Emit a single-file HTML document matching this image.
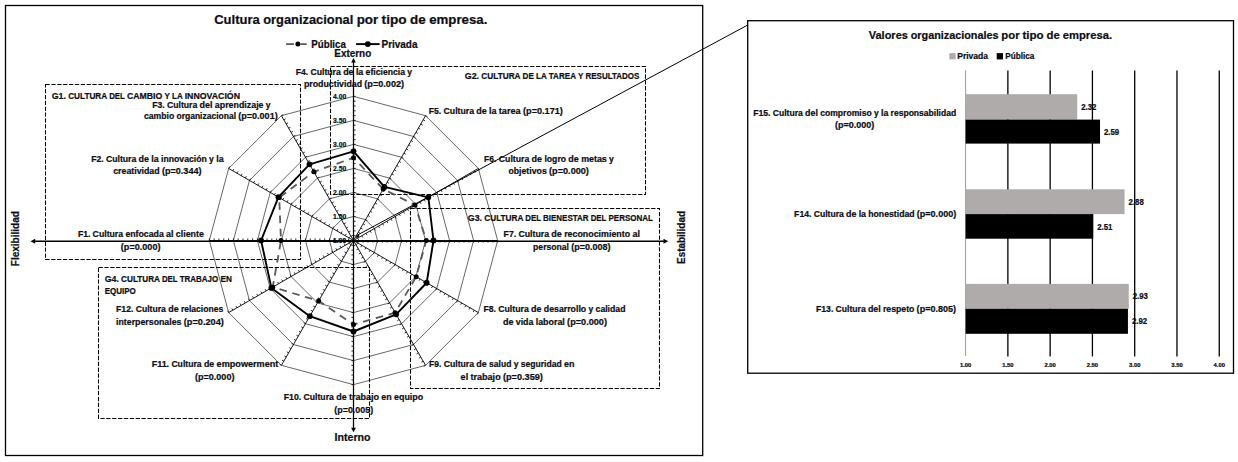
<!DOCTYPE html>
<html lang="es"><head><meta charset="utf-8"><title>Cultura organizacional por tipo de empresa</title>
<style>html,body{margin:0;padding:0;background:#fff}body{width:1238px;height:462px;overflow:hidden}svg{display:block}text{stroke:#0d0d14;stroke-width:.22px}</style></head>
<body>
<svg width="1238" height="462" viewBox="0 0 1238 462" font-family='"Liberation Sans", sans-serif' font-weight="bold" fill="#0d0d14">
<rect x="0" y="0" width="1238" height="462" fill="#fff"/>
<rect x="5.5" y="5.5" width="697.2" height="450" fill="none" stroke="#000" stroke-width="1.3"/>
<g fill="none" stroke="#000" stroke-width="0.6"><polygon points="353.5,216.47 365.51,219.69 374.31,228.49 377.52,240.5 374.31,252.51 365.51,261.31 353.5,264.52 341.49,261.31 332.69,252.51 329.48,240.5 332.69,228.49 341.49,219.69"/><polygon points="353.5,192.45 377.52,198.89 395.11,216.47 401.55,240.5 395.11,264.52 377.52,282.11 353.5,288.55 329.48,282.11 311.89,264.53 305.45,240.5 311.89,216.47 329.47,198.89"/><polygon points="353.5,168.43 389.54,178.08 415.92,204.46 425.57,240.5 415.92,276.54 389.54,302.92 353.5,312.57 317.46,302.92 291.08,276.54 281.43,240.5 291.08,204.46 317.46,178.08"/><polygon points="353.5,144.4 401.55,157.27 436.73,192.45 449.6,240.5 436.73,288.55 401.55,323.73 353.5,336.6 305.45,323.73 270.27,288.55 257.4,240.5 270.27,192.45 305.45,157.27"/><polygon points="353.5,120.38 413.56,136.47 457.53,180.44 473.62,240.5 457.53,300.56 413.56,344.53 353.5,360.62 293.44,344.53 249.47,300.56 233.38,240.5 249.47,180.44 293.44,136.47"/><polygon points="353.5,96.35 425.57,115.66 478.34,168.43 497.65,240.5 478.34,312.57 425.57,365.34 353.5,384.65 281.43,365.34 228.66,312.58 209.35,240.5 228.66,168.43 281.42,115.66"/></g>
<path d="M353.5 240.5L353.5 96.35M353.5 240.5L425.57 115.66M353.5 240.5L478.34 168.43M353.5 240.5L497.65 240.5M353.5 240.5L478.34 312.57M353.5 240.5L425.57 365.34M353.5 240.5L353.5 384.65M353.5 240.5L281.43 365.34M353.5 240.5L228.66 312.58M353.5 240.5L209.35 240.5M353.5 240.5L228.66 168.43M353.5 240.5L281.42 115.66" fill="none" stroke="#000" stroke-width="0.9"/>
<path d="M353.5 235.69l2.1 -0M353.5 230.89l2.1 -0M353.5 226.09l2.1 -0M353.5 221.28l2.1 -0M353.5 216.47l2.1 -0M353.5 211.67l2.1 -0M353.5 206.87l2.1 -0M353.5 202.06l2.1 -0M353.5 197.25l2.1 -0M353.5 192.45l2.1 -0M353.5 187.65l2.1 -0M353.5 182.84l2.1 -0M353.5 178.03l2.1 -0M353.5 173.23l2.1 -0M353.5 168.43l2.1 -0M353.5 163.62l2.1 -0M353.5 158.81l2.1 -0M353.5 154.01l2.1 -0M353.5 149.21l2.1 -0M353.5 144.4l2.1 -0M353.5 139.59l2.1 -0M353.5 134.79l2.1 -0M353.5 129.99l2.1 -0M353.5 125.18l2.1 -0M353.5 120.38l2.1 -0M353.5 115.57l2.1 -0M353.5 110.77l2.1 -0M353.5 105.96l2.1 -0M353.5 101.16l2.1 -0M353.5 96.35l2.1 -0M355.9 236.34l1.82 1.05M358.31 232.18l1.82 1.05M360.71 228.02l1.82 1.05M363.11 223.85l1.82 1.05M365.51 219.69l1.82 1.05M367.92 215.53l1.82 1.05M370.32 211.37l1.82 1.05M372.72 207.21l1.82 1.05M375.12 203.05l1.82 1.05M377.52 198.89l1.82 1.05M379.93 194.73l1.82 1.05M382.33 190.56l1.82 1.05M384.73 186.4l1.82 1.05M387.13 182.24l1.82 1.05M389.54 178.08l1.82 1.05M391.94 173.92l1.82 1.05M394.34 169.76l1.82 1.05M396.75 165.6l1.82 1.05M399.15 161.44l1.82 1.05M401.55 157.27l1.82 1.05M403.95 153.11l1.82 1.05M406.36 148.95l1.82 1.05M408.76 144.79l1.82 1.05M411.16 140.63l1.82 1.05M413.56 136.47l1.82 1.05M415.96 132.31l1.82 1.05M418.37 128.15l1.82 1.05M420.77 123.98l1.82 1.05M423.17 119.82l1.82 1.05M425.57 115.66l1.82 1.05M357.66 238.1l1.05 1.82M361.82 235.69l1.05 1.82M365.98 233.29l1.05 1.82M370.15 230.89l1.05 1.82M374.31 228.49l1.05 1.82M378.47 226.09l1.05 1.82M382.63 223.68l1.05 1.82M386.79 221.28l1.05 1.82M390.95 218.88l1.05 1.82M395.11 216.47l1.05 1.82M399.27 214.07l1.05 1.82M403.44 211.67l1.05 1.82M407.6 209.27l1.05 1.82M411.76 206.87l1.05 1.82M415.92 204.46l1.05 1.82M420.08 202.06l1.05 1.82M424.24 199.66l1.05 1.82M428.4 197.25l1.05 1.82M432.56 194.85l1.05 1.82M436.73 192.45l1.05 1.82M440.89 190.05l1.05 1.82M445.05 187.64l1.05 1.82M449.21 185.24l1.05 1.82M453.37 182.84l1.05 1.82M457.53 180.44l1.05 1.82M461.69 178.03l1.05 1.82M465.85 175.63l1.05 1.82M470.02 173.23l1.05 1.82M474.18 170.83l1.05 1.82M478.34 168.42l1.05 1.82M358.31 240.5l0 2.1M363.11 240.5l0 2.1M367.92 240.5l0 2.1M372.72 240.5l0 2.1M377.52 240.5l0 2.1M382.33 240.5l0 2.1M387.13 240.5l0 2.1M391.94 240.5l0 2.1M396.75 240.5l0 2.1M401.55 240.5l0 2.1M406.36 240.5l0 2.1M411.16 240.5l0 2.1M415.96 240.5l0 2.1M420.77 240.5l0 2.1M425.57 240.5l0 2.1M430.38 240.5l0 2.1M435.19 240.5l0 2.1M439.99 240.5l0 2.1M444.79 240.5l0 2.1M449.6 240.5l0 2.1M454.4 240.5l0 2.1M459.21 240.5l0 2.1M464.01 240.5l0 2.1M468.82 240.5l0 2.1M473.62 240.5l0 2.1M478.43 240.5l0 2.1M483.24 240.5l0 2.1M488.04 240.5l0 2.1M492.84 240.5l0 2.1M497.65 240.5l0 2.1M357.66 242.9l-1.05 1.82M361.82 245.31l-1.05 1.82M365.98 247.71l-1.05 1.82M370.15 250.11l-1.05 1.82M374.31 252.51l-1.05 1.82M378.47 254.91l-1.05 1.82M382.63 257.32l-1.05 1.82M386.79 259.72l-1.05 1.82M390.95 262.12l-1.05 1.82M395.11 264.52l-1.05 1.82M399.27 266.93l-1.05 1.82M403.44 269.33l-1.05 1.82M407.6 271.73l-1.05 1.82M411.76 274.13l-1.05 1.82M415.92 276.54l-1.05 1.82M420.08 278.94l-1.05 1.82M424.24 281.34l-1.05 1.82M428.4 283.75l-1.05 1.82M432.56 286.15l-1.05 1.82M436.73 288.55l-1.05 1.82M440.89 290.95l-1.05 1.82M445.05 293.35l-1.05 1.82M449.21 295.76l-1.05 1.82M453.37 298.16l-1.05 1.82M457.53 300.56l-1.05 1.82M461.69 302.96l-1.05 1.82M465.85 305.37l-1.05 1.82M470.02 307.77l-1.05 1.82M474.18 310.17l-1.05 1.82M478.34 312.57l-1.05 1.82M355.9 244.66l-1.82 1.05M358.31 248.82l-1.82 1.05M360.71 252.98l-1.82 1.05M363.11 257.15l-1.82 1.05M365.51 261.31l-1.82 1.05M367.92 265.47l-1.82 1.05M370.32 269.63l-1.82 1.05M372.72 273.79l-1.82 1.05M375.12 277.95l-1.82 1.05M377.52 282.11l-1.82 1.05M379.93 286.27l-1.82 1.05M382.33 290.44l-1.82 1.05M384.73 294.6l-1.82 1.05M387.13 298.76l-1.82 1.05M389.54 302.92l-1.82 1.05M391.94 307.08l-1.82 1.05M394.34 311.24l-1.82 1.05M396.75 315.4l-1.82 1.05M399.15 319.56l-1.82 1.05M401.55 323.73l-1.82 1.05M403.95 327.89l-1.82 1.05M406.36 332.05l-1.82 1.05M408.76 336.21l-1.82 1.05M411.16 340.37l-1.82 1.05M413.56 344.53l-1.82 1.05M415.96 348.69l-1.82 1.05M418.37 352.85l-1.82 1.05M420.77 357.02l-1.82 1.05M423.17 361.18l-1.82 1.05M425.57 365.34l-1.82 1.05M353.5 245.31l-2.1 0M353.5 250.11l-2.1 0M353.5 254.91l-2.1 0M353.5 259.72l-2.1 0M353.5 264.52l-2.1 0M353.5 269.33l-2.1 0M353.5 274.13l-2.1 0M353.5 278.94l-2.1 0M353.5 283.75l-2.1 0M353.5 288.55l-2.1 0M353.5 293.36l-2.1 0M353.5 298.16l-2.1 0M353.5 302.96l-2.1 0M353.5 307.77l-2.1 0M353.5 312.57l-2.1 0M353.5 317.38l-2.1 0M353.5 322.19l-2.1 0M353.5 326.99l-2.1 0M353.5 331.79l-2.1 0M353.5 336.6l-2.1 0M353.5 341.4l-2.1 0M353.5 346.21l-2.1 0M353.5 351.01l-2.1 0M353.5 355.82l-2.1 0M353.5 360.62l-2.1 0M353.5 365.43l-2.1 0M353.5 370.24l-2.1 0M353.5 375.04l-2.1 0M353.5 379.84l-2.1 0M353.5 384.65l-2.1 0M351.1 244.66l-1.82 -1.05M348.69 248.82l-1.82 -1.05M346.29 252.98l-1.82 -1.05M343.89 257.15l-1.82 -1.05M341.49 261.31l-1.82 -1.05M339.08 265.47l-1.82 -1.05M336.68 269.63l-1.82 -1.05M334.28 273.79l-1.82 -1.05M331.88 277.95l-1.82 -1.05M329.48 282.11l-1.82 -1.05M327.07 286.27l-1.82 -1.05M324.67 290.44l-1.82 -1.05M322.27 294.6l-1.82 -1.05M319.87 298.76l-1.82 -1.05M317.46 302.92l-1.82 -1.05M315.06 307.08l-1.82 -1.05M312.66 311.24l-1.82 -1.05M310.25 315.4l-1.82 -1.05M307.85 319.56l-1.82 -1.05M305.45 323.73l-1.82 -1.05M303.05 327.89l-1.82 -1.05M300.64 332.05l-1.82 -1.05M298.24 336.21l-1.82 -1.05M295.84 340.37l-1.82 -1.05M293.44 344.53l-1.82 -1.05M291.03 348.69l-1.82 -1.05M288.63 352.85l-1.82 -1.05M286.23 357.02l-1.82 -1.05M283.83 361.18l-1.82 -1.05M281.42 365.34l-1.82 -1.05M349.34 242.9l-1.05 -1.82M345.18 245.31l-1.05 -1.82M341.02 247.71l-1.05 -1.82M336.85 250.11l-1.05 -1.82M332.69 252.51l-1.05 -1.82M328.53 254.92l-1.05 -1.82M324.37 257.32l-1.05 -1.82M320.21 259.72l-1.05 -1.82M316.05 262.12l-1.05 -1.82M311.89 264.53l-1.05 -1.82M307.73 266.93l-1.05 -1.82M303.56 269.33l-1.05 -1.82M299.4 271.73l-1.05 -1.82M295.24 274.14l-1.05 -1.82M291.08 276.54l-1.05 -1.82M286.92 278.94l-1.05 -1.82M282.76 281.34l-1.05 -1.82M278.6 283.75l-1.05 -1.82M274.44 286.15l-1.05 -1.82M270.27 288.55l-1.05 -1.82M266.11 290.95l-1.05 -1.82M261.95 293.36l-1.05 -1.82M257.79 295.76l-1.05 -1.82M253.63 298.16l-1.05 -1.82M249.47 300.56l-1.05 -1.82M245.31 302.97l-1.05 -1.82M241.15 305.37l-1.05 -1.82M236.98 307.77l-1.05 -1.82M232.82 310.17l-1.05 -1.82M228.66 312.58l-1.05 -1.82M348.69 240.5l-0 -2.1M343.89 240.5l-0 -2.1M339.08 240.5l-0 -2.1M334.28 240.5l-0 -2.1M329.48 240.5l-0 -2.1M324.67 240.5l-0 -2.1M319.87 240.5l-0 -2.1M315.06 240.5l-0 -2.1M310.25 240.5l-0 -2.1M305.45 240.5l-0 -2.1M300.64 240.5l-0 -2.1M295.84 240.5l-0 -2.1M291.04 240.5l-0 -2.1M286.23 240.5l-0 -2.1M281.43 240.5l-0 -2.1M276.62 240.5l-0 -2.1M271.81 240.5l-0 -2.1M267.01 240.5l-0 -2.1M262.21 240.5l-0 -2.1M257.4 240.5l-0 -2.1M252.59 240.5l-0 -2.1M247.79 240.5l-0 -2.1M242.99 240.5l-0 -2.1M238.18 240.5l-0 -2.1M233.38 240.5l-0 -2.1M228.57 240.5l-0 -2.1M223.77 240.5l-0 -2.1M218.96 240.5l-0 -2.1M214.16 240.5l-0 -2.1M209.35 240.5l-0 -2.1M349.34 238.1l1.05 -1.82M345.18 235.69l1.05 -1.82M341.02 233.29l1.05 -1.82M336.85 230.89l1.05 -1.82M332.69 228.49l1.05 -1.82M328.53 226.09l1.05 -1.82M324.37 223.68l1.05 -1.82M320.21 221.28l1.05 -1.82M316.05 218.88l1.05 -1.82M311.89 216.47l1.05 -1.82M307.73 214.07l1.05 -1.82M303.56 211.67l1.05 -1.82M299.4 209.27l1.05 -1.82M295.24 206.87l1.05 -1.82M291.08 204.46l1.05 -1.82M286.92 202.06l1.05 -1.82M282.76 199.66l1.05 -1.82M278.6 197.25l1.05 -1.82M274.44 194.85l1.05 -1.82M270.27 192.45l1.05 -1.82M266.11 190.05l1.05 -1.82M261.95 187.64l1.05 -1.82M257.79 185.24l1.05 -1.82M253.63 182.84l1.05 -1.82M249.47 180.44l1.05 -1.82M245.31 178.03l1.05 -1.82M241.15 175.63l1.05 -1.82M236.98 173.23l1.05 -1.82M232.82 170.83l1.05 -1.82M228.66 168.42l1.05 -1.82M351.1 236.34l1.82 -1.05M348.69 232.18l1.82 -1.05M346.29 228.02l1.82 -1.05M343.89 223.85l1.82 -1.05M341.49 219.69l1.82 -1.05M339.08 215.53l1.82 -1.05M336.68 211.37l1.82 -1.05M334.28 207.21l1.82 -1.05M331.88 203.05l1.82 -1.05M329.47 198.89l1.82 -1.05M327.07 194.73l1.82 -1.05M324.67 190.56l1.82 -1.05M322.27 186.4l1.82 -1.05M319.86 182.24l1.82 -1.05M317.46 178.08l1.82 -1.05M315.06 173.92l1.82 -1.05M312.66 169.76l1.82 -1.05M310.25 165.6l1.82 -1.05M307.85 161.44l1.82 -1.05M305.45 157.27l1.82 -1.05M303.05 153.11l1.82 -1.05M300.64 148.95l1.82 -1.05M298.24 144.79l1.82 -1.05M295.84 140.63l1.82 -1.05M293.44 136.47l1.82 -1.05M291.03 132.31l1.82 -1.05M288.63 128.15l1.82 -1.05M286.23 123.98l1.82 -1.05M283.83 119.82l1.82 -1.05M281.42 115.66l1.82 -1.05" fill="none" stroke="#000" stroke-width="0.8"/>
<path d="M353.5 61V430" stroke="#000" stroke-width="1.25" fill="none"/>
<path d="M34 241.2H665" stroke="#000" stroke-width="1.4" fill="none"/>
<path d="M353.5 58l2.3 4.4h-4.6z M353.5 432.2l2.4 -4.5h-4.8z M30.5 241.2l4.7 -2.5v5z M668.2 241.2l-4.7 -2.5v5z" fill="#000"/>
<path d="M357 235.3L747.4 25.2" stroke="#000" stroke-width="1" fill="none"/>
<path d="M355.2 238.2l3.4 -4.4l0.9 2.6z" fill="#000"/>
<rect x="45.5" y="84.5" width="255" height="175" fill="none" stroke="#000" stroke-width="1.05" stroke-dasharray="4.3 1.57"/>
<rect x="330.5" y="66.5" width="315" height="128" fill="none" stroke="#000" stroke-width="1.05" stroke-dasharray="4.3 1.57"/>
<rect x="410.5" y="208.5" width="249" height="180" fill="none" stroke="#000" stroke-width="1.05" stroke-dasharray="4.3 1.57"/>
<rect x="98.5" y="267.5" width="271" height="151" fill="none" stroke="#000" stroke-width="1.05" stroke-dasharray="4.3 1.57"/>
<polygon points="353.5,157.8 383.2,189.06 414.99,205 426.3,240.5 416.2,276.7 395.15,312.64 353.5,324.5 318.65,300.86 272.7,287.15 281,240.5 279.2,197.6 313.85,171.82" fill="none" stroke="#595959" stroke-width="1.8" stroke-dasharray="7.58 5.68" stroke-dashoffset="4.46" stroke-linejoin="round"/>
<g fill="#000"><circle cx="353.5" cy="157.8" r="2.5"/><circle cx="383.2" cy="189.06" r="2.5"/><circle cx="414.99" cy="205" r="2.5"/><circle cx="426.3" cy="240.5" r="2.5"/><circle cx="416.2" cy="276.7" r="2.5"/><circle cx="395.15" cy="312.64" r="2.5"/><circle cx="353.5" cy="324.5" r="2.5"/><circle cx="318.65" cy="300.86" r="2.5"/><circle cx="272.7" cy="287.15" r="2.5"/><circle cx="281" cy="240.5" r="2.5"/><circle cx="279.2" cy="197.6" r="2.5"/><circle cx="313.85" cy="171.82" r="2.5"/></g>
<polygon points="353.5,151.3 384.45,186.89 428.32,197.3 433.5,240.5 426.68,282.75 396.15,314.37 353.5,331.5 309.8,316.19 271.4,287.9 261.1,240.5 278.42,197.15 309.5,164.29" fill="none" stroke="#000" stroke-width="1.9" stroke-linejoin="round"/>
<g fill="#000"><circle cx="353.5" cy="151.3" r="2.9"/><circle cx="384.45" cy="186.89" r="2.9"/><circle cx="428.32" cy="197.3" r="2.9"/><circle cx="433.5" cy="240.5" r="2.9"/><circle cx="426.68" cy="282.75" r="2.9"/><circle cx="396.15" cy="314.37" r="2.9"/><circle cx="353.5" cy="331.5" r="2.9"/><circle cx="309.8" cy="316.19" r="2.9"/><circle cx="271.4" cy="287.9" r="2.9"/><circle cx="261.1" cy="240.5" r="2.9"/><circle cx="278.42" cy="197.15" r="2.9"/><circle cx="309.5" cy="164.29" r="2.9"/></g>
<text x="333" y="243.1" font-size="7.13" textLength="13.2" lengthAdjust="spacingAndGlyphs">1.00</text>
<text x="333" y="219.07" font-size="7.13" textLength="13.2" lengthAdjust="spacingAndGlyphs">1.50</text>
<text x="333" y="195.05" font-size="7.13" textLength="13.2" lengthAdjust="spacingAndGlyphs">2.00</text>
<text x="333" y="171.03" font-size="7.13" textLength="13.2" lengthAdjust="spacingAndGlyphs">2.50</text>
<text x="333" y="147" font-size="7.13" textLength="13.2" lengthAdjust="spacingAndGlyphs">3.00</text>
<text x="333" y="122.97" font-size="7.13" textLength="13.2" lengthAdjust="spacingAndGlyphs">3.50</text>
<text x="333" y="98.95" font-size="7.13" textLength="13.2" lengthAdjust="spacingAndGlyphs">4.00</text>
<text y="24.4" font-size="13.5"><tspan x="214.2" textLength="45.58" lengthAdjust="spacingAndGlyphs">Cultura</tspan> <tspan x="263.19" textLength="90.05" lengthAdjust="spacingAndGlyphs">organizacional</tspan> <tspan x="356.65" textLength="21.56" lengthAdjust="spacingAndGlyphs">por</tspan> <tspan x="381.63" textLength="25.03" lengthAdjust="spacingAndGlyphs">tipo</tspan> <tspan x="410.07" textLength="15.69" lengthAdjust="spacingAndGlyphs">de</tspan> <tspan x="429.17" textLength="58.23" lengthAdjust="spacingAndGlyphs">empresa.</tspan></text>
<path d="M286.1 44.1H294M300.5 44.1H306.7" stroke="#595959" stroke-width="1.8" fill="none"/>
<circle cx="297.9" cy="44.1" r="2.5" fill="#000"/>
<text x="311.3" y="47.5" font-size="10.5" textLength="34.6" lengthAdjust="spacingAndGlyphs">Pública</text>
<path d="M356.1 44.1H379.6" stroke="#000" stroke-width="1.9" fill="none"/>
<circle cx="367.8" cy="44.1" r="2.9" fill="#000"/>
<text x="381.5" y="47.5" font-size="10.5" textLength="36" lengthAdjust="spacingAndGlyphs">Privada</text>
<text x="334.3" y="56.7" font-size="10.5" textLength="36.9" lengthAdjust="spacingAndGlyphs">Externo</text>
<text x="334.6" y="440.6" font-size="10.5" textLength="35.9" lengthAdjust="spacingAndGlyphs">Interno</text>
<text transform="translate(19.4 266.2) rotate(-90)" font-size="10.5" textLength="55" lengthAdjust="spacingAndGlyphs">Flexibilidad</text>
<text transform="translate(685 264) rotate(-90)" font-size="10.5" textLength="53" lengthAdjust="spacingAndGlyphs">Estabilidad</text>
<text y="98.6" font-size="9.05"><tspan x="51.7" textLength="14.19" lengthAdjust="spacingAndGlyphs">G1.</tspan> <tspan x="68.16" textLength="38.7" lengthAdjust="spacingAndGlyphs">CULTURA</tspan> <tspan x="109.14" textLength="15.5" lengthAdjust="spacingAndGlyphs">DEL</tspan> <tspan x="126.91" textLength="35.32" lengthAdjust="spacingAndGlyphs">CAMBIO</tspan> <tspan x="164.51" textLength="5.22" lengthAdjust="spacingAndGlyphs">Y</tspan> <tspan x="172.01" textLength="10.35" lengthAdjust="spacingAndGlyphs">LA</tspan> <tspan x="184.63" textLength="55.37" lengthAdjust="spacingAndGlyphs">INNOVACIÓN</tspan></text>
<text y="108.2" font-size="9.05"><tspan x="152.2" textLength="12.42" lengthAdjust="spacingAndGlyphs">F3.</tspan> <tspan x="166.9" textLength="30.44" lengthAdjust="spacingAndGlyphs">Cultura</tspan> <tspan x="199.62" textLength="12.95" lengthAdjust="spacingAndGlyphs">del</tspan> <tspan x="214.85" textLength="48.7" lengthAdjust="spacingAndGlyphs">aprendizaje</tspan> <tspan x="265.83" textLength="4.77" lengthAdjust="spacingAndGlyphs">y</tspan></text>
<text y="119.4" font-size="9.05"><tspan x="143.9" textLength="30.32" lengthAdjust="spacingAndGlyphs">cambio</tspan> <tspan x="176.47" textLength="59.55" lengthAdjust="spacingAndGlyphs">organizacional</tspan> <tspan x="238.28" textLength="39.42" lengthAdjust="spacingAndGlyphs">(p=0.001)</tspan></text>
<text y="161.9" font-size="9.05"><tspan x="91.2" textLength="12.42" lengthAdjust="spacingAndGlyphs">F2.</tspan> <tspan x="105.89" textLength="30.43" lengthAdjust="spacingAndGlyphs">Cultura</tspan> <tspan x="138.6" textLength="10.47" lengthAdjust="spacingAndGlyphs">de</tspan> <tspan x="151.35" textLength="7.44" lengthAdjust="spacingAndGlyphs">la</tspan> <tspan x="161.07" textLength="45.76" lengthAdjust="spacingAndGlyphs">innovación</tspan> <tspan x="209.11" textLength="4.77" lengthAdjust="spacingAndGlyphs">y</tspan> <tspan x="216.16" textLength="7.44" lengthAdjust="spacingAndGlyphs">la</tspan></text>
<text y="174.4" font-size="9.05"><tspan x="113.2" textLength="46.43" lengthAdjust="spacingAndGlyphs">creatividad</tspan> <tspan x="161.9" textLength="39.7" lengthAdjust="spacingAndGlyphs">(p=0.344)</tspan></text>
<text y="236.7" font-size="9.05"><tspan x="77.9" textLength="12.44" lengthAdjust="spacingAndGlyphs">F1.</tspan> <tspan x="92.62" textLength="30.49" lengthAdjust="spacingAndGlyphs">Cultura</tspan> <tspan x="125.4" textLength="38.44" lengthAdjust="spacingAndGlyphs">enfocada</tspan> <tspan x="166.12" textLength="7.46" lengthAdjust="spacingAndGlyphs">al</tspan> <tspan x="175.86" textLength="28.04" lengthAdjust="spacingAndGlyphs">cliente</tspan></text>
<text x="120.8" y="249.7" font-size="9.05" textLength="39.7" lengthAdjust="spacingAndGlyphs">(p=0.000)</text>
<text y="281.7" font-size="9.05"><tspan x="104.7" textLength="14.15" lengthAdjust="spacingAndGlyphs">G4.</tspan> <tspan x="121.12" textLength="38.6" lengthAdjust="spacingAndGlyphs">CULTURA</tspan> <tspan x="161.98" textLength="15.46" lengthAdjust="spacingAndGlyphs">DEL</tspan> <tspan x="179.71" textLength="38.53" lengthAdjust="spacingAndGlyphs">TRABAJO</tspan> <tspan x="220.5" textLength="11.5" lengthAdjust="spacingAndGlyphs">EN</tspan></text>
<text x="104.7" y="293.9" font-size="9.05" textLength="31.1" lengthAdjust="spacingAndGlyphs">EQUIPO</text>
<text y="312.2" font-size="9.05"><tspan x="116" textLength="17.42" lengthAdjust="spacingAndGlyphs">F12.</tspan> <tspan x="135.68" textLength="30.26" lengthAdjust="spacingAndGlyphs">Cultura</tspan> <tspan x="168.2" textLength="10.41" lengthAdjust="spacingAndGlyphs">de</tspan> <tspan x="180.88" textLength="42.32" lengthAdjust="spacingAndGlyphs">relaciones</tspan></text>
<text y="325.2" font-size="9.05"><tspan x="116" textLength="65.48" lengthAdjust="spacingAndGlyphs">interpersonales</tspan> <tspan x="183.77" textLength="40.03" lengthAdjust="spacingAndGlyphs">(p=0.204)</tspan></text>
<text y="367.4" font-size="9.05"><tspan x="151.7" textLength="17.42" lengthAdjust="spacingAndGlyphs">F11.</tspan> <tspan x="171.38" textLength="30.25" lengthAdjust="spacingAndGlyphs">Cultura</tspan> <tspan x="203.9" textLength="10.41" lengthAdjust="spacingAndGlyphs">de</tspan> <tspan x="216.57" textLength="61.83" lengthAdjust="spacingAndGlyphs">empowerment</tspan></text>
<text x="194.9" y="380.1" font-size="9.05" textLength="39.6" lengthAdjust="spacingAndGlyphs">(p=0.000)</text>
<text y="399.8" font-size="9.05"><tspan x="283.7" textLength="17.5" lengthAdjust="spacingAndGlyphs">F10.</tspan> <tspan x="303.48" textLength="30.4" lengthAdjust="spacingAndGlyphs">Cultura</tspan> <tspan x="336.16" textLength="10.46" lengthAdjust="spacingAndGlyphs">de</tspan> <tspan x="348.89" textLength="30.15" lengthAdjust="spacingAndGlyphs">trabajo</tspan> <tspan x="381.32" textLength="10.46" lengthAdjust="spacingAndGlyphs">en</tspan> <tspan x="394.06" textLength="29.14" lengthAdjust="spacingAndGlyphs">equipo</tspan></text>
<text x="334.3" y="413.2" font-size="9.05" textLength="38.8" lengthAdjust="spacingAndGlyphs">(p=0.005)</text>
<text y="74.8" font-size="9.05"><tspan x="295.7" textLength="12.42" lengthAdjust="spacingAndGlyphs">F4.</tspan> <tspan x="310.4" textLength="30.45" lengthAdjust="spacingAndGlyphs">Cultura</tspan> <tspan x="343.14" textLength="10.48" lengthAdjust="spacingAndGlyphs">de</tspan> <tspan x="355.9" textLength="7.45" lengthAdjust="spacingAndGlyphs">la</tspan> <tspan x="365.62" textLength="39.42" lengthAdjust="spacingAndGlyphs">eficiencia</tspan> <tspan x="407.33" textLength="4.77" lengthAdjust="spacingAndGlyphs">y</tspan></text>
<text y="86.9" font-size="9.05"><tspan x="303.9" textLength="58.16" lengthAdjust="spacingAndGlyphs">productividad</tspan> <tspan x="364.33" textLength="39.77" lengthAdjust="spacingAndGlyphs">(p=0.002)</tspan></text>
<text y="78.8" font-size="9.05"><tspan x="464.8" textLength="14.26" lengthAdjust="spacingAndGlyphs">G2.</tspan> <tspan x="481.35" textLength="38.89" lengthAdjust="spacingAndGlyphs">CULTURA</tspan> <tspan x="522.52" textLength="11.3" lengthAdjust="spacingAndGlyphs">DE</tspan> <tspan x="536.11" textLength="10.4" lengthAdjust="spacingAndGlyphs">LA</tspan> <tspan x="548.79" textLength="26.95" lengthAdjust="spacingAndGlyphs">TAREA</tspan> <tspan x="578.02" textLength="5.25" lengthAdjust="spacingAndGlyphs">Y</tspan> <tspan x="585.56" textLength="53.74" lengthAdjust="spacingAndGlyphs">RESULTADOS</tspan></text>
<text y="113.6" font-size="9.05"><tspan x="428.8" textLength="12.44" lengthAdjust="spacingAndGlyphs">F5.</tspan> <tspan x="443.52" textLength="30.5" lengthAdjust="spacingAndGlyphs">Cultura</tspan> <tspan x="476.3" textLength="10.5" lengthAdjust="spacingAndGlyphs">de</tspan> <tspan x="489.08" textLength="7.46" lengthAdjust="spacingAndGlyphs">la</tspan> <tspan x="498.82" textLength="21.92" lengthAdjust="spacingAndGlyphs">tarea</tspan> <tspan x="523.02" textLength="39.88" lengthAdjust="spacingAndGlyphs">(p=0.171)</tspan></text>
<text y="162" font-size="9.05"><tspan x="484" textLength="12.47" lengthAdjust="spacingAndGlyphs">F6.</tspan> <tspan x="498.76" textLength="30.57" lengthAdjust="spacingAndGlyphs">Cultura</tspan> <tspan x="531.61" textLength="10.52" lengthAdjust="spacingAndGlyphs">de</tspan> <tspan x="544.42" textLength="21.63" lengthAdjust="spacingAndGlyphs">logro</tspan> <tspan x="568.33" textLength="10.52" lengthAdjust="spacingAndGlyphs">de</tspan> <tspan x="581.14" textLength="25.69" lengthAdjust="spacingAndGlyphs">metas</tspan> <tspan x="609.11" textLength="4.79" lengthAdjust="spacingAndGlyphs">y</tspan></text>
<text y="174.3" font-size="9.05"><tspan x="508.4" textLength="38.4" lengthAdjust="spacingAndGlyphs">objetivos</tspan> <tspan x="549.08" textLength="39.82" lengthAdjust="spacingAndGlyphs">(p=0.000)</tspan></text>
<text y="220.7" font-size="9.05"><tspan x="467.8" textLength="14.21" lengthAdjust="spacingAndGlyphs">G3.</tspan> <tspan x="484.29" textLength="38.75" lengthAdjust="spacingAndGlyphs">CULTURA</tspan> <tspan x="525.32" textLength="15.52" lengthAdjust="spacingAndGlyphs">DEL</tspan> <tspan x="543.11" textLength="45.31" lengthAdjust="spacingAndGlyphs">BIENESTAR</tspan> <tspan x="590.7" textLength="15.52" lengthAdjust="spacingAndGlyphs">DEL</tspan> <tspan x="608.5" textLength="44.4" lengthAdjust="spacingAndGlyphs">PERSONAL</tspan></text>
<text y="236.8" font-size="9.05"><tspan x="503.6" textLength="12.5" lengthAdjust="spacingAndGlyphs">F7.</tspan> <tspan x="518.4" textLength="30.65" lengthAdjust="spacingAndGlyphs">Cultura</tspan> <tspan x="551.34" textLength="10.55" lengthAdjust="spacingAndGlyphs">de</tspan> <tspan x="564.18" textLength="65.93" lengthAdjust="spacingAndGlyphs">reconocimiento</tspan> <tspan x="632.4" textLength="7.5" lengthAdjust="spacingAndGlyphs">al</tspan></text>
<text y="249.8" font-size="9.05"><tspan x="533.1" textLength="35.85" lengthAdjust="spacingAndGlyphs">personal</tspan> <tspan x="571.2" textLength="39.4" lengthAdjust="spacingAndGlyphs">(p=0.008)</tspan></text>
<text y="311.8" font-size="9.05"><tspan x="483.5" textLength="12.45" lengthAdjust="spacingAndGlyphs">F8.</tspan> <tspan x="498.23" textLength="30.52" lengthAdjust="spacingAndGlyphs">Cultura</tspan> <tspan x="531.04" textLength="10.5" lengthAdjust="spacingAndGlyphs">de</tspan> <tspan x="543.82" textLength="42.39" lengthAdjust="spacingAndGlyphs">desarrollo</tspan> <tspan x="588.5" textLength="4.78" lengthAdjust="spacingAndGlyphs">y</tspan> <tspan x="595.56" textLength="29.94" lengthAdjust="spacingAndGlyphs">calidad</tspan></text>
<text y="324.8" font-size="9.05"><tspan x="503" textLength="10.5" lengthAdjust="spacingAndGlyphs">de</tspan> <tspan x="515.78" textLength="17.65" lengthAdjust="spacingAndGlyphs">vida</tspan> <tspan x="535.71" textLength="29.13" lengthAdjust="spacingAndGlyphs">laboral</tspan> <tspan x="567.12" textLength="39.88" lengthAdjust="spacingAndGlyphs">(p=0.000)</tspan></text>
<text y="366.8" font-size="9.05"><tspan x="429" textLength="12.41" lengthAdjust="spacingAndGlyphs">F9.</tspan> <tspan x="443.68" textLength="30.41" lengthAdjust="spacingAndGlyphs">Cultura</tspan> <tspan x="476.37" textLength="10.47" lengthAdjust="spacingAndGlyphs">de</tspan> <tspan x="489.11" textLength="22.26" lengthAdjust="spacingAndGlyphs">salud</tspan> <tspan x="513.64" textLength="4.77" lengthAdjust="spacingAndGlyphs">y</tspan> <tspan x="520.69" textLength="41.07" lengthAdjust="spacingAndGlyphs">seguridad</tspan> <tspan x="564.03" textLength="10.47" lengthAdjust="spacingAndGlyphs">en</tspan></text>
<text y="379.8" font-size="9.05"><tspan x="460.6" textLength="7.56" lengthAdjust="spacingAndGlyphs">el</tspan> <tspan x="470.45" textLength="30.26" lengthAdjust="spacingAndGlyphs">trabajo</tspan> <tspan x="502.99" textLength="39.91" lengthAdjust="spacingAndGlyphs">(p=0.359)</tspan></text>
<rect x="747.7" y="20.7" width="485.8" height="352.5" fill="#fff" stroke="#000" stroke-width="1.3"/>
<text y="39.3" font-size="11.52"><tspan x="868.8" textLength="39.05" lengthAdjust="spacingAndGlyphs">Valores</tspan> <tspan x="910.74" textLength="87.73" lengthAdjust="spacingAndGlyphs">organizacionales</tspan> <tspan x="1001.35" textLength="18.25" lengthAdjust="spacingAndGlyphs">por</tspan> <tspan x="1022.49" textLength="21.18" lengthAdjust="spacingAndGlyphs">tipo</tspan> <tspan x="1046.56" textLength="13.28" lengthAdjust="spacingAndGlyphs">de</tspan> <tspan x="1062.72" textLength="49.28" lengthAdjust="spacingAndGlyphs">empresa.</tspan></text>
<rect x="949.3" y="53.1" width="6.3" height="6.3" fill="#afabab"/>
<text x="957.2" y="59.3" font-size="8.82" textLength="30.9" lengthAdjust="spacingAndGlyphs">Privada</text>
<rect x="996.7" y="53.1" width="6.3" height="6.3" fill="#000"/>
<text x="1005.3" y="59.3" font-size="8.82" textLength="29" lengthAdjust="spacingAndGlyphs">Pública</text>
<path d="M965.6 70.4V356" stroke="#9a9a9a" stroke-width="1" fill="none"/>
<path d="M1007.88 70.4V356.6M1050.15 70.4V356.6M1092.42 70.4V356.6M1134.7 70.4V356.6M1176.97 70.4V356.6M1219.25 70.4V356.6" stroke="#000" stroke-width="1.3" fill="none"/>
<rect x="965.6" y="94.2" width="111.61" height="25.4" fill="#afabab"/>
<rect x="965.6" y="119.6" width="134.43" height="24" fill="#000"/>
<text x="1081.21" y="110" font-size="8.19" textLength="15.2" lengthAdjust="spacingAndGlyphs">2.32</text>
<text x="1104.03" y="134.7" font-size="8.19" textLength="15.2" lengthAdjust="spacingAndGlyphs">2.59</text>
<rect x="965.6" y="189.3" width="158.95" height="24.8" fill="#afabab"/>
<rect x="965.6" y="214.1" width="127.67" height="24.6" fill="#000"/>
<text x="1128.55" y="204.8" font-size="8.19" textLength="15.2" lengthAdjust="spacingAndGlyphs">2.88</text>
<text x="1097.27" y="229.5" font-size="8.19" textLength="15.2" lengthAdjust="spacingAndGlyphs">2.51</text>
<rect x="965.6" y="283.9" width="163.18" height="24.9" fill="#afabab"/>
<rect x="965.6" y="308.8" width="162.34" height="25" fill="#000"/>
<text x="1132.78" y="299.45" font-size="8.19" textLength="15.2" lengthAdjust="spacingAndGlyphs">2.93</text>
<text x="1131.94" y="324.4" font-size="8.19" textLength="15.2" lengthAdjust="spacingAndGlyphs">2.92</text>
<text x="959.9" y="366.9" font-size="6.16" textLength="11.4" lengthAdjust="spacingAndGlyphs">1.00</text>
<text x="1002.17" y="366.9" font-size="6.16" textLength="11.4" lengthAdjust="spacingAndGlyphs">1.50</text>
<text x="1044.45" y="366.9" font-size="6.16" textLength="11.4" lengthAdjust="spacingAndGlyphs">2.00</text>
<text x="1086.72" y="366.9" font-size="6.16" textLength="11.4" lengthAdjust="spacingAndGlyphs">2.50</text>
<text x="1129" y="366.9" font-size="6.16" textLength="11.4" lengthAdjust="spacingAndGlyphs">3.00</text>
<text x="1171.27" y="366.9" font-size="6.16" textLength="11.4" lengthAdjust="spacingAndGlyphs">3.50</text>
<text x="1213.55" y="366.9" font-size="6.16" textLength="11.4" lengthAdjust="spacingAndGlyphs">4.00</text>
<text y="115.7" font-size="8.97"><tspan x="753.2" textLength="17.33" lengthAdjust="spacingAndGlyphs">F15.</tspan> <tspan x="772.78" textLength="30.09" lengthAdjust="spacingAndGlyphs">Cultura</tspan> <tspan x="805.12" textLength="12.8" lengthAdjust="spacingAndGlyphs">del</tspan> <tspan x="820.18" textLength="51.56" lengthAdjust="spacingAndGlyphs">compromiso</tspan> <tspan x="873.99" textLength="4.72" lengthAdjust="spacingAndGlyphs">y</tspan> <tspan x="880.96" textLength="7.36" lengthAdjust="spacingAndGlyphs">la</tspan> <tspan x="890.57" textLength="65.63" lengthAdjust="spacingAndGlyphs">responsabilidad</tspan></text>
<text x="835.1" y="127.9" font-size="8.97" textLength="39.2" lengthAdjust="spacingAndGlyphs">(p=0.000)</text>
<text y="216.6" font-size="8.97"><tspan x="794.1" textLength="17.33" lengthAdjust="spacingAndGlyphs">F14.</tspan> <tspan x="813.68" textLength="30.09" lengthAdjust="spacingAndGlyphs">Cultura</tspan> <tspan x="846.02" textLength="10.36" lengthAdjust="spacingAndGlyphs">de</tspan> <tspan x="858.63" textLength="7.36" lengthAdjust="spacingAndGlyphs">la</tspan> <tspan x="868.24" textLength="46.35" lengthAdjust="spacingAndGlyphs">honestidad</tspan> <tspan x="916.84" textLength="39.36" lengthAdjust="spacingAndGlyphs">(p=0.000)</tspan></text>
<text y="311.7" font-size="8.97"><tspan x="816" textLength="17.33" lengthAdjust="spacingAndGlyphs">F13.</tspan> <tspan x="835.58" textLength="30.09" lengthAdjust="spacingAndGlyphs">Cultura</tspan> <tspan x="867.92" textLength="12.8" lengthAdjust="spacingAndGlyphs">del</tspan> <tspan x="882.98" textLength="31.41" lengthAdjust="spacingAndGlyphs">respeto</tspan> <tspan x="916.64" textLength="39.36" lengthAdjust="spacingAndGlyphs">(p=0.805)</tspan></text>
</svg>
</body></html>
